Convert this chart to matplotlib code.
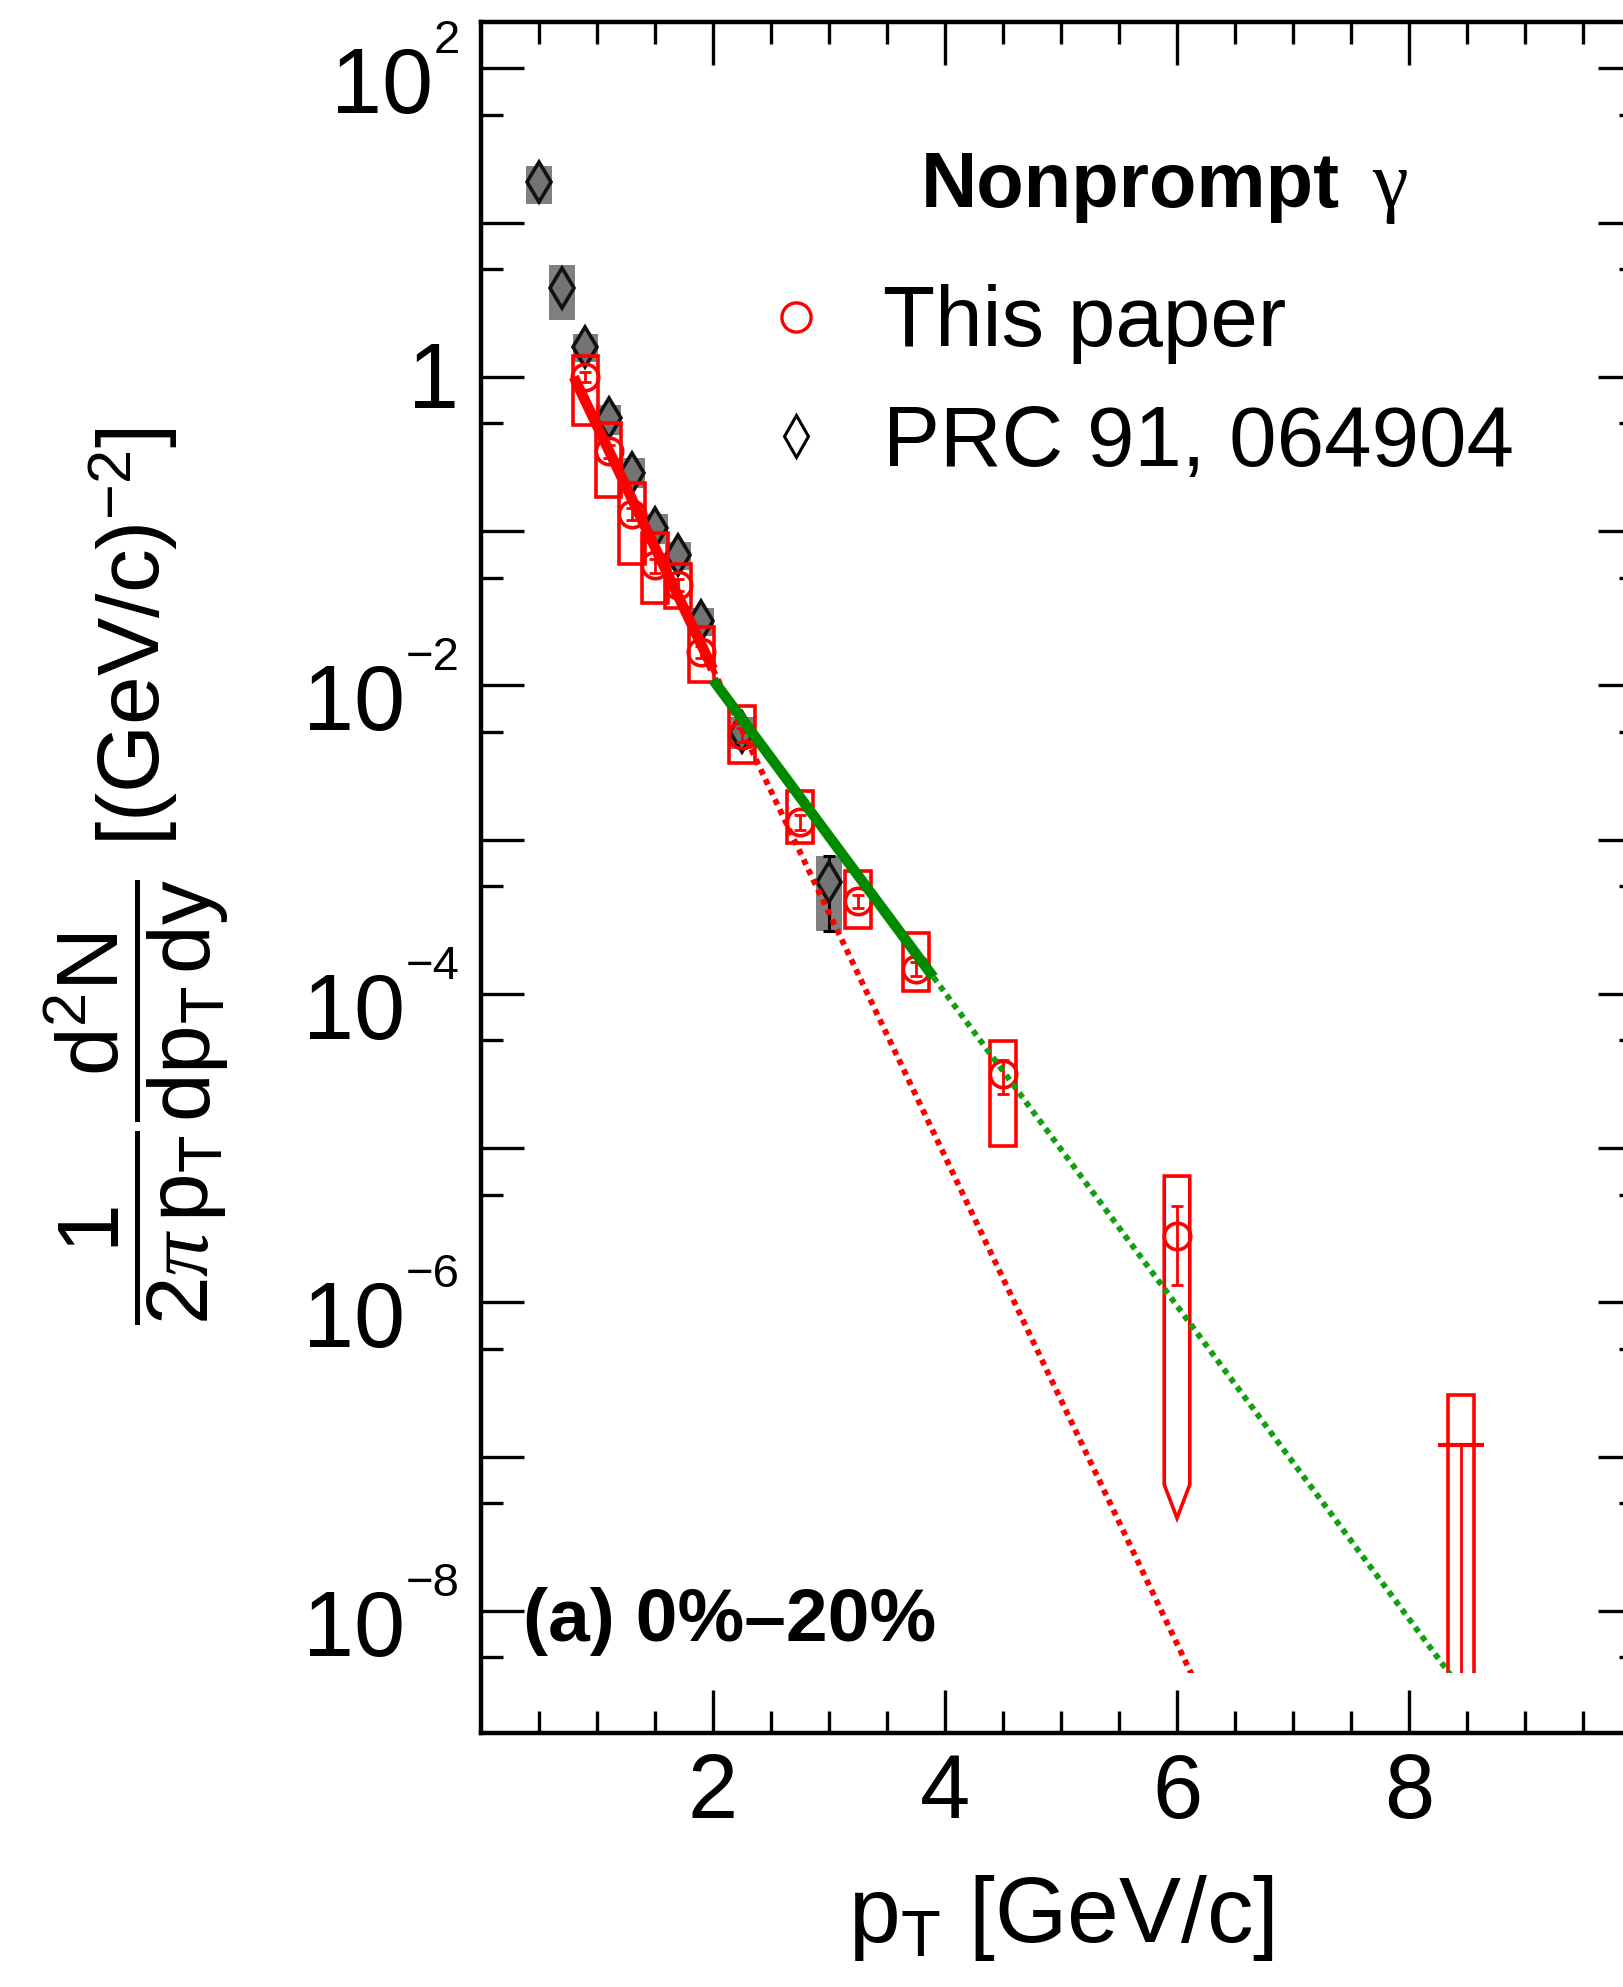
import numpy as np
import matplotlib.pyplot as plt
from matplotlib.patches import Rectangle, Polygon
from matplotlib.lines import Line2D
from matplotlib.ticker import FixedLocator, FixedFormatter, NullFormatter

plt.rcParams['font.family'] = ['Liberation Sans', 'DejaVu Sans']
plt.rcParams['mathtext.fontset'] = 'custom'
plt.rcParams['mathtext.rm'] = 'Liberation Sans'
plt.rcParams['mathtext.it'] = 'Liberation Serif:italic'
plt.rcParams['mathtext.bf'] = 'Liberation Sans:bold'

# PRC 91, 064904 (gray diamonds, filled syst. boxes)
prc_pt = np.array([0.5, 0.7, 0.9, 1.1, 1.3, 1.5, 1.7, 1.9, 2.25, 3.0])
prc_y = np.array([18.4, 3.8, 1.56, 0.54, 0.24, 0.105, 0.070, 0.026, 5.0e-3, 5.3e-4])
prc_stat_lo = np.array([17.0, 3.5, 1.45, 0.50, 0.225, 0.097, 0.065, 0.024, 4.6e-3, 2.55e-4])
prc_stat_hi = np.array([19.8, 4.1, 1.67, 0.58, 0.255, 0.113, 0.075, 0.028, 5.4e-3, 7.8e-4])
prc_sys_lo = np.array([13.2, 2.35, 1.25, 0.42, 0.19, 0.083, 0.056, 0.021, 3.9e-3, 2.55e-4])
prc_sys_hi = np.array([23.4, 5.3, 1.9, 0.66, 0.30, 0.13, 0.085, 0.032, 6.2e-3, 7.8e-4])

# this paper (red open circles, open syst. boxes)
red_pt = np.array([0.9, 1.1, 1.3, 1.5, 1.7, 1.9, 2.25, 2.75, 3.25, 3.75, 4.5, 6.0, 8.45])
red_y = np.array([1.0, 0.33, 0.13, 0.060, 0.045, 0.0165, 4.8e-3, 1.3e-3, 4.0e-4,
                  1.45e-4, 3.05e-5, 2.7e-6, 1.2e-7])
red_stat_lo = np.array([0.93, 0.30, 0.118, 0.054, 0.041, 0.0150, 4.3e-3, 1.15e-3, 3.6e-4,
                        1.3e-4, 2.24e-5, 1.29e-6, 1e-10])
red_stat_hi = np.array([1.07, 0.36, 0.142, 0.066, 0.049, 0.0180, 5.3e-3, 1.45e-3, 4.4e-4,
                        1.6e-4, 3.72e-5, 4.2e-6, 1.2e-7])
red_sys_lo = np.array([0.486, 0.166, 0.061, 0.034, 0.0316, 0.0105, 3.15e-3, 9.5e-4, 2.69e-4,
                       1.04e-4, 1.03e-5, 6.6e-8, 1e-10])
red_sys_hi = np.array([1.36, 0.50, 0.205, 0.098, 0.061, 0.024, 7.35e-3, 2.07e-3, 6.25e-4,
                       2.49e-4, 4.93e-5, 6.6e-6, 2.5e-7])
red_xerr = np.array([0, 0, 0, 0, 0, 0, 0, 0, 0, 0, 0, 0, 0.2])
# lower end of the 6 GeV box is drawn as an arrow tip
red_sys_tip = {11: 4.0e-8}

# exponential fits  A * exp(-pT / T)
red_fit_A, red_fit_T = 18.34, 0.2750
red_fit_range = (0.8, 2.0)
red_fit_extend = 6.5
green_fit_A, green_fit_T = 1.165, 0.4280
green_fit_range = (2.0, 3.9)
green_fit_extend = 9.0

yticks_exp = list(range(-8, 3))
ylabel_exp = [-8, -6, -4, -2, 0, 2]
xticks_major = [2, 4, 6, 8]

RED = '#ff0000'
GREEN = '#008a00'
GRAY = '#808080'


def expo(A, T, x):
    return A * np.exp(-np.asarray(x) / T)


fig = plt.figure(figsize=(16.23, 19.87), dpi=100)
ax = fig.add_axes([0.29637, 0.12808, 0.71473, 0.86100])
ax.set_yscale('log')
ax.set_xlim(0, 10)
ax.set_ylim(1.63e-9, 201)

# gray syst boxes + markers
bw = 0.11
for pt, lo, hi in zip(prc_pt, prc_sys_lo, prc_sys_hi):
    ax.add_patch(Rectangle((pt - bw, lo), 2 * bw, hi - lo, facecolor=GRAY,
                           edgecolor='none', zorder=2))
ax.errorbar(prc_pt, prc_y, yerr=[prc_y - prc_stat_lo, prc_stat_hi - prc_y], fmt='none',
            ecolor='black', elinewidth=2.2, capsize=4, capthick=2.2, zorder=3)
ax.plot(prc_pt, prc_y, ls='none', marker='d', ms=20, mfc='#737373', mec='#111111',
        mew=2.6, zorder=3)

# red syst boxes
for i, (pt, lo, hi) in enumerate(zip(red_pt, red_sys_lo, red_sys_hi)):
    if i in red_sys_tip:
        tip = red_sys_tip[i]
        pts = [(pt - bw, hi), (pt + bw, hi), (pt + bw, lo), (pt, tip), (pt - bw, lo)]
        ax.add_patch(Polygon(pts, closed=True, facecolor='none', edgecolor=RED,
                             lw=2.6, zorder=4))
    else:
        ax.add_patch(Rectangle((pt - bw, lo), 2 * bw, hi - lo, facecolor='none',
                               edgecolor=RED, lw=2.6, zorder=4))
ax.errorbar(red_pt, red_y, yerr=[red_y - red_stat_lo, red_stat_hi - red_y], fmt='none',
            ecolor=RED, elinewidth=2.0, capsize=4.5, capthick=2.0, zorder=4)
has_x = red_xerr > 0
ax.errorbar(red_pt[has_x], red_y[has_x], xerr=red_xerr[has_x], fmt='none',
            ecolor=RED, elinewidth=3.0, capsize=0, zorder=4)
ax.plot(red_pt[~has_x], red_y[~has_x], ls='none', marker='o', ms=19, mfc='none',
        mec=RED, mew=2.6, zorder=4)

# fits: solid over the fit range, dotted extrapolation
x = np.array(red_fit_range)
ax.plot(x, expo(red_fit_A, red_fit_T, x), color=RED, lw=7.5, solid_capstyle='butt', zorder=5)
x = np.array([red_fit_range[1], red_fit_extend])
ax.plot(x, expo(red_fit_A, red_fit_T, x), color=RED, lw=4.2, ls=(0, (1.0, 0.9)),
        dash_capstyle='butt', zorder=5)
x = np.array(green_fit_range)
ax.plot(x, expo(green_fit_A, green_fit_T, x), color=GREEN, lw=7.5, solid_capstyle='butt', zorder=5)
x = np.array([green_fit_range[1], green_fit_extend])
ax.plot(x, expo(green_fit_A, green_fit_T, x), color='#10a010', lw=4.2, ls=(0, (1.0, 0.9)),
        dash_capstyle='butt', zorder=5)

# blank strip above the bottom axis
ax.add_patch(Rectangle((0, 0), 1, 0.0348, transform=ax.transAxes, facecolor='white',
                       edgecolor='none', zorder=7))

# axes styling
for s in ax.spines.values():
    s.set_linewidth(3.2)
    s.set_zorder(8)
ax.xaxis.set_zorder(8)
ax.yaxis.set_zorder(8)

ax.yaxis.set_major_locator(FixedLocator([10.0 ** k for k in yticks_exp]))
ax.yaxis.set_major_formatter(NullFormatter())
ax.yaxis.set_minor_locator(FixedLocator([5 * 10.0 ** k for k in range(-10, 3)]))
ax.xaxis.set_major_locator(FixedLocator(xticks_major))
ax.xaxis.set_major_formatter(FixedFormatter([str(v) for v in xticks_major]))
ax.xaxis.set_minor_locator(FixedLocator(np.arange(0.5, 10, 0.5)))

ax.tick_params(which='both', direction='in', top=True, right=True, width=2.4)
ax.tick_params(which='major', length=31)
ax.tick_params(which='minor', length=16)
ax.tick_params(axis='x', which='major', labelsize=65, pad=14)

# decade labels: large mantissa, small raised exponent
for k in ylabel_exp:
    ytick_pos = (0, 10.0 ** k)
    if k == 0:
        ax.annotate('1', xy=ytick_pos, xycoords=('axes fraction', 'data'),
                    xytext=(-15.5, -22), textcoords='offset points',
                    ha='right', va='baseline', fontsize=66)
        continue
    sup = ax.annotate(str(k).replace('-', '\u2212'), xy=ytick_pos,
                      xycoords=('axes fraction', 'data'), xytext=(-15.5, 11),
                      textcoords='offset points', ha='right', va='baseline', fontsize=34)
    ax.annotate('10', xy=(0, 0), xycoords=sup, xytext=(0, -36),
                textcoords='offset points', ha='right', va='baseline', fontsize=66)

ax.set_xlabel(r'$\mathrm{p_{T}}$ [GeV/c]', fontsize=67, labelpad=26)
fig.text(0.0841, 0.5591,
         r'$\dfrac{1}{2\pi\,\mathrm{p_{T}}}\dfrac{\mathrm{d^{2}N}}{\mathrm{dp_{T}\,dy}}$ [(GeV/c)$^{-2}$]',
         rotation=90, ha='center', va='center', fontsize=63)

# header and legend
ax.text(0.3793, 0.8917, 'Nonprompt', transform=ax.transAxes, fontsize=56,
        fontweight='bold', va='baseline', ha='left')
ax.text(0.7681, 0.8917, '\u03b3', transform=ax.transAxes, fontsize=58,
        family='Liberation Serif', va='baseline', ha='left')
handles = [Line2D([], [], ls='none', marker='o', ms=21, mfc='none', mec=RED, mew=2.4),
           Line2D([], [], ls='none', marker='d', ms=21, mfc='none', mec='black', mew=2.2)]
ax.legend(handles, ['This paper', 'PRC 91, 064904'], loc='center left',
          bbox_to_anchor=(0.2343, 0.7882), frameon=False, fontsize=61.5,
          handlelength=1.0, handletextpad=0.52, labelspacing=0.46,
          borderpad=0, borderaxespad=0)

ax.text(0.036, 0.0535, '(a) 0%\u201320%', transform=ax.transAxes, fontsize=54,
        fontweight='bold', va='baseline', ha='left', zorder=9)

fig.savefig('out.png', dpi=100)
